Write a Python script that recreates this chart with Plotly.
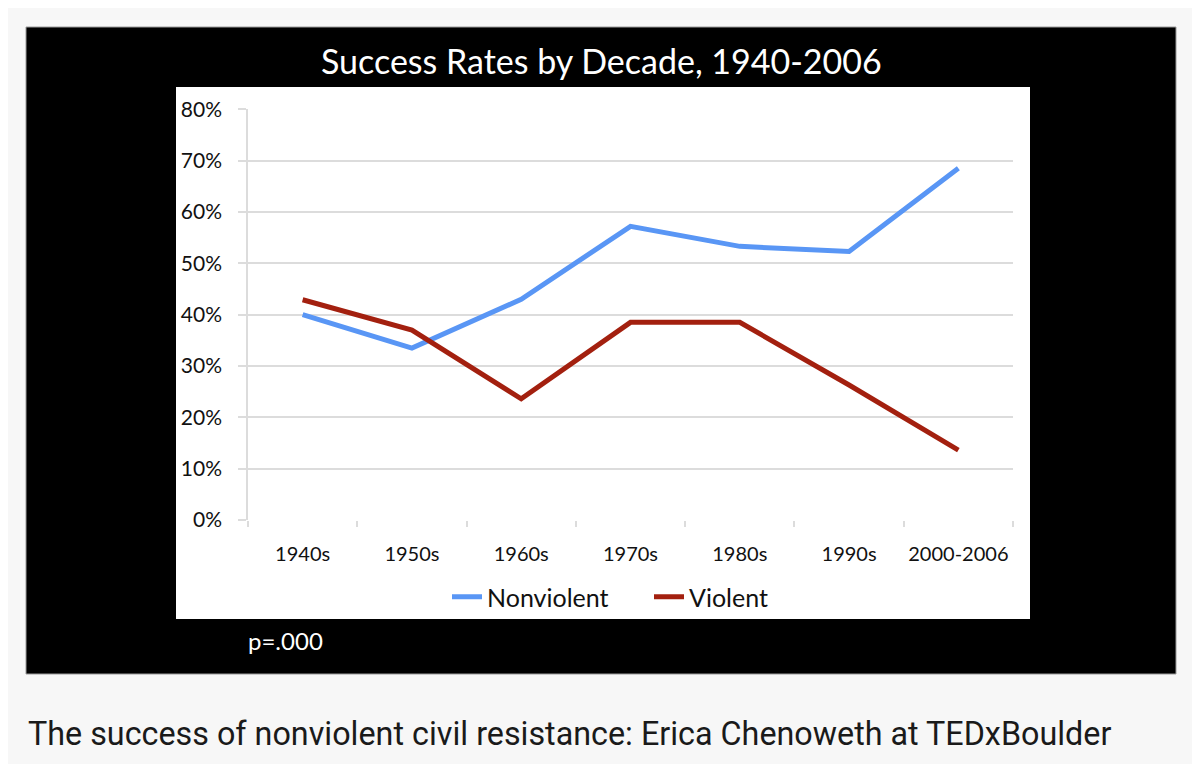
import plotly.graph_objects as go

categories = ["1940s", "1950s", "1960s", "1970s", "1980s", "1990s", "2000-2006"]
nonviolent = [0.400, 0.335, 0.430, 0.572, 0.533, 0.523, 0.685]
violent = [0.429, 0.370, 0.236, 0.385, 0.385, 0.263, 0.136]
y_ticks = [0, 0.1, 0.2, 0.3, 0.4, 0.5, 0.6, 0.7, 0.8]
y_tick_labels = ["0%", "10%", "20%", "30%", "40%", "50%", "60%", "70%", "80%"]

# page body has an 8px margin; figure sized to fit the 1200x764 window
OFF = 8
W, H = 1200 - OFF, 764 - OFF
def px(x):
    return (x - OFF) / W
def py(y):
    return (H - (y - OFF)) / H

GRID = "#dcdcdc"
FONT = "Lato"

fig = go.Figure()
fig.add_trace(go.Scatter(x=categories, y=nonviolent, mode="lines", name="Nonviolent",
                         line=dict(color="#5996f5", width=5)))
fig.add_trace(go.Scatter(x=categories, y=violent, mode="lines", name="Violent",
                         line=dict(color="#a3200f", width=5)))

fig.update_layout(
    width=W, height=H,
    margin=dict(l=0, r=0, t=0, b=0, autoexpand=False),
    paper_bgcolor="#f7f7f7",
    plot_bgcolor="white",
    showlegend=True,
    legend=dict(orientation="h", x=px(447), xanchor="left", y=py(597), yanchor="middle",
                font=dict(family=FONT, size=25, color="#111"), itemwidth=30, entrywidth=157,
                bgcolor="rgba(0,0,0,0)", traceorder="normal", borderwidth=0),
    xaxis=dict(domain=[px(248), px(1013)], type="category", range=[-0.5, 6.5],
               tickson="boundaries", ticks="outside", ticklen=6, tickcolor=GRID, tickwidth=1.5,
               showgrid=False, showline=False, zeroline=False, automargin=False, tickangle=0,
               tickfont=dict(family=FONT, size=20, color="#111"), ticklabelstandoff=20),
    yaxis=dict(domain=[py(520), py(109.3)], range=[0, 0.8], tickvals=y_ticks, ticktext=y_tick_labels,
               ticks="outside", ticklen=8, tickcolor=GRID, tickwidth=1.5,
               showgrid=True, gridcolor=GRID, gridwidth=1.5,
               showline=True, linecolor=GRID, linewidth=1.5, zeroline=False, automargin=False,
               tickfont=dict(family=FONT, size=21, color="#111"), ticklabelstandoff=12),
    shapes=[
        dict(type="rect", xref="paper", yref="paper", x0=px(26), x1=px(1176), y0=py(674), y1=py(27),
             fillcolor="black", line=dict(color="#9a9a9a", width=1), layer="below"),
        dict(type="rect", xref="paper", yref="paper", x0=px(176), x1=px(1030), y0=py(619), y1=py(87),
             fillcolor="white", line=dict(width=0), layer="below"),
    ],
    annotations=[
        dict(text="Success Rates by Decade, 1940-2006", xref="paper", yref="paper",
             x=px(601), y=py(60), xanchor="center", yanchor="middle", showarrow=False,
             font=dict(family=FONT, size=34, color="white")),
        dict(text="p=.000", xref="paper", yref="paper",
             x=px(246), y=py(640), xanchor="left", yanchor="middle", showarrow=False,
             font=dict(family=FONT, size=24, color="white")),
        dict(text="The success of nonviolent civil resistance: Erica Chenoweth at TEDxBoulder",
             xref="paper", yref="paper", x=px(26), y=py(734), xanchor="left", yanchor="middle",
             showarrow=False, font=dict(family="Roboto", size=32.3, color="#1a1a1a")),
    ],
)

fig.write_html("out.html")
